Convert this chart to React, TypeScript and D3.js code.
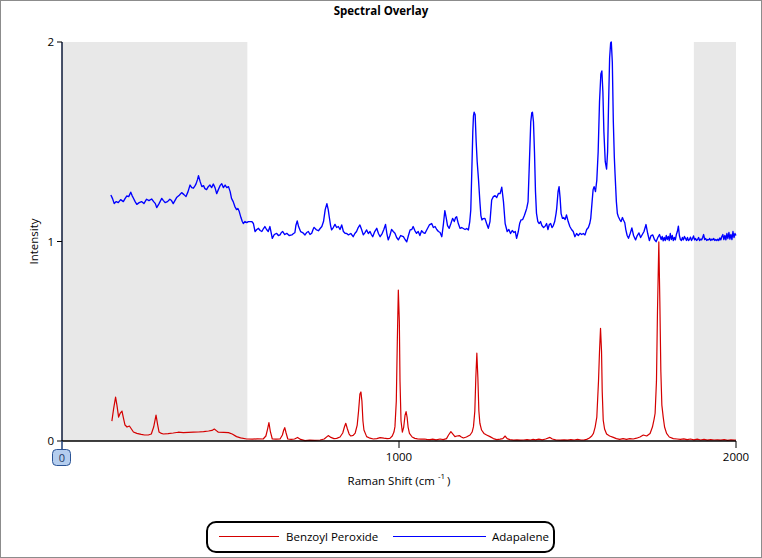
import React from "react";
import * as d3 from "d3";

const chartTitle = "Spectral Overlay";
const seriesNames = ["Benzoyl Peroxide", "Adapalene"];
const xTicks = [0, 1000, 2000];
const yTicks = [0, 1, 2];
const shadedRanges: [number, number][] = [[0, 550], [1875, 2000]];

const benzoylPeroxide: [number, number][] = [
  [148,0.10],[153,0.16],[159,0.22],[163,0.18],[168,0.12],[173,0.14],[178,0.15],[183,0.11],[187,0.08],[193,0.07],
  [200,0.075],[206,0.06],[212,0.045],[222,0.038],[235,0.033],[245,0.03],[256,0.03],[265,0.035],[272,0.07],[279,0.13],
  [284,0.08],[288,0.045],[295,0.038],[301,0.035],[315,0.037],[330,0.04],[345,0.044],[360,0.042],[375,0.043],[390,0.044],
  [405,0.045],[420,0.047],[435,0.05],[445,0.053],[452,0.06],[458,0.052],[464,0.044],[480,0.043],[494,0.042],[505,0.035],
  [518,0.022],[530,0.016],[548,0.01],[565,0.009],[580,0.011],[597,0.01],[605,0.025],[610,0.06],[614,0.092],[618,0.05],
  [624,0.01],[635,0.009],[647,0.01],[654,0.03],[658,0.055],[661,0.067],[665,0.04],[670,0.01],[680,0.008],[690,0.01],
  [699,0.018],[708,0.008],[721,0.002],[735,0.004],[750,0.003],[766,0.005],[778,0.01],[790,0.027],[798,0.018],[807,0.012],
  [815,0.013],[825,0.02],[833,0.04],[838,0.07],[842,0.089],[847,0.06],[852,0.035],[857,0.025],[864,0.028],[870,0.04],
  [876,0.08],[880,0.15],[884,0.235],[887,0.246],[890,0.2],[893,0.1],[896,0.055],[904,0.022],[914,0.014],[924,0.01],
  [934,0.012],[944,0.017],[955,0.014],[965,0.012],[973,0.013],[980,0.025],[985,0.045],[988,0.072],[992,0.2],[995,0.5],
  [998,0.757],[1001,0.6],[1003,0.3],[1006,0.1],[1010,0.044],[1014,0.07],[1018,0.13],[1021,0.147],[1024,0.12],[1027,0.07],
  [1031,0.038],[1039,0.02],[1047,0.013],[1055,0.011],[1065,0.009],[1075,0.01],[1082,0.008],[1092,0.007],[1100,0.009],[1110,0.006],
  [1122,0.01],[1131,0.007],[1141,0.012],[1147,0.03],[1154,0.047],[1160,0.035],[1166,0.022],[1172,0.025],[1179,0.027],[1185,0.02],
  [1191,0.015],[1200,0.02],[1211,0.03],[1217,0.045],[1221,0.072],[1225,0.15],[1228,0.32],[1231,0.44],[1234,0.32],[1237,0.15],
  [1240,0.089],[1245,0.055],[1252,0.038],[1260,0.03],[1270,0.022],[1280,0.012],[1290,0.007],[1300,0.009],[1308,0.012],[1315,0.025],
  [1321,0.012],[1329,0.007],[1340,0.004],[1350,0.006],[1360,0.004],[1370,0.005],[1380,0.007],[1390,0.005],[1398,0.008],[1405,0.006],
  [1415,0.009],[1425,0.006],[1435,0.01],[1448,0.018],[1455,0.01],[1465,0.006],[1478,0.004],[1490,0.006],[1500,0.004],[1510,0.007],
  [1520,0.005],[1530,0.008],[1540,0.005],[1550,0.006],[1557,0.008],[1565,0.015],[1572,0.025],[1577,0.038],[1582,0.07],[1587,0.12],
  [1592,0.3],[1595,0.45],[1598,0.565],[1601,0.45],[1603,0.25],[1606,0.105],[1610,0.06],[1616,0.035],[1625,0.025],[1636,0.018],
  [1645,0.012],[1655,0.008],[1665,0.012],[1675,0.008],[1685,0.012],[1695,0.01],[1705,0.014],[1715,0.02],[1725,0.03],[1735,0.025],
  [1745,0.038],[1752,0.07],[1757,0.11],[1760,0.139],[1764,0.3],[1767,0.65],[1771,0.998],[1774,0.7],[1777,0.35],[1780,0.18],
  [1784,0.12],[1788,0.07],[1794,0.038],[1802,0.02],[1814,0.012],[1825,0.01],[1835,0.008],[1845,0.011],[1855,0.007],[1865,0.01],
  [1875,0.006],[1885,0.009],[1895,0.005],[1905,0.008],[1915,0.004],[1925,0.007],[1935,0.005],[1945,0.006],[1955,0.004],[1965,0.007],
  [1975,0.003],[1985,0.006],[1995,0.004],[2000,0.005]
];

const adapalene: [number, number][] = [
  [145,1.233],[150,1.215],[155,1.19],[161,1.2],[167,1.195],[174,1.21],[182,1.2],[187,1.215],[192,1.228],[198,1.225],
  [204,1.247],[208,1.23],[212,1.217],[217,1.2],[222,1.186],[229,1.195],[236,1.2],[243,1.19],[251,1.212],[258,1.205],
  [266,1.213],[272,1.2],[277,1.19],[281,1.17],[288,1.19],[296,1.216],[301,1.205],[306,1.195],[313,1.2],[320,1.212],
  [325,1.205],[330,1.19],[335,1.205],[340,1.22],[348,1.232],[355,1.245],[362,1.235],[368,1.225],[374,1.25],[380,1.283],
  [385,1.27],[390,1.267],[395,1.28],[398,1.29],[402,1.31],[405,1.33],[410,1.3],[415,1.275],[420,1.28],[424,1.265],
  [429,1.26],[434,1.275],[439,1.283],[444,1.27],[449,1.288],[454,1.27],[459,1.24],[464,1.26],[469,1.28],[474,1.29],
  [479,1.27],[484,1.283],[489,1.27],[494,1.275],[499,1.25],[503,1.216],[508,1.2],[513,1.175],[518,1.16],[522,1.165],
  [526,1.15],[531,1.12],[535,1.1],[538,1.09],[543,1.1],[548,1.095],[553,1.1],[558,1.1],[563,1.1],[568,1.09],
  [573,1.05],[578,1.06],[583,1.066],[588,1.055],[593,1.05],[598,1.065],[602,1.075],[607,1.06],[612,1.05],[617,1.075],
  [620,1.05],[624,1.016],[630,1.035],[637,1.041],[642,1.03],[647,1.033],[651,1.045],[655,1.05],[661,1.035],[667,1.041],
  [674,1.03],[682,1.033],[687,1.04],[691,1.044],[694,1.08],[698,1.103],[702,1.075],[708,1.05],[714,1.045],[721,1.033],
  [726,1.045],[731,1.05],[736,1.035],[741,1.041],[745,1.06],[748,1.071],[754,1.06],[761,1.054],[766,1.065],[771,1.075],
  [776,1.1],[781,1.16],[786,1.19],[790,1.16],[793,1.124],[797,1.08],[800,1.058],[805,1.07],[810,1.086],[815,1.07],
  [820,1.075],[825,1.06],[830,1.083],[835,1.05],[840,1.041],[845,1.04],[850,1.033],[857,1.04],[864,1.024],[869,1.04],
  [874,1.05],[879,1.07],[884,1.083],[889,1.06],[894,1.033],[899,1.045],[904,1.058],[909,1.04],[914,1.05],[918,1.035],
  [922,1.024],[928,1.05],[934,1.066],[939,1.04],[944,1.024],[950,1.04],[955,1.06],[960,1.086],[964,1.04],[968,1.008],
  [973,1.03],[978,1.061],[983,1.05],[988,1.041],[993,1.02],[998,1.008],[1005,1.03],[1013,1.024],[1018,1.01],[1023,0.998],
  [1028,1.03],[1033,1.058],[1038,1.06],[1042,1.075],[1047,1.055],[1052,1.041],[1057,1.05],[1062,1.03],[1067,1.054],[1072,1.045],
  [1077,1.041],[1083,1.06],[1090,1.083],[1097,1.09],[1102,1.07],[1107,1.075],[1112,1.06],[1117,1.05],[1122,1.045],[1127,1.024],
  [1132,1.09],[1136,1.155],[1140,1.12],[1144,1.08],[1149,1.066],[1154,1.09],[1159,1.116],[1164,1.1],[1168,1.12],[1171,1.124],
  [1176,1.09],[1181,1.066],[1186,1.07],[1191,1.065],[1196,1.06],[1201,1.065],[1206,1.058],[1210,1.1],[1213,1.158],[1216,1.35],
  [1219,1.55],[1221,1.63],[1223,1.648],[1226,1.635],[1229,1.5],[1232,1.4],[1236,1.308],[1240,1.2],[1243,1.13],[1246,1.108],
  [1250,1.115],[1255,1.116],[1260,1.09],[1265,1.066],[1270,1.1],[1275,1.208],[1280,1.225],[1285,1.23],[1290,1.22],[1295,1.241],
  [1300,1.24],[1305,1.272],[1310,1.2],[1315,1.09],[1318,1.07],[1321,1.05],[1326,1.06],[1331,1.04],[1336,1.055],[1341,1.045],
  [1345,1.05],[1349,1.016],[1354,1.05],[1358,1.09],[1362,1.108],[1367,1.11],[1372,1.13],[1376,1.15],[1379,1.166],[1383,1.2],
  [1387,1.4],[1391,1.6],[1394,1.645],[1396,1.648],[1399,1.6],[1402,1.45],[1405,1.25],[1408,1.141],[1412,1.1],[1416,1.09],
  [1420,1.1],[1424,1.08],[1429,1.07],[1433,1.075],[1438,1.09],[1442,1.06],[1446,1.085],[1450,1.09],[1454,1.07],[1458,1.08],
  [1462,1.1],[1466,1.14],[1468,1.166],[1472,1.25],[1475,1.275],[1478,1.22],[1481,1.14],[1485,1.116],[1489,1.12],[1493,1.11],
  [1497,1.133],[1502,1.1],[1507,1.075],[1512,1.06],[1517,1.05],[1522,1.024],[1527,1.04],[1532,1.03],[1537,1.041],[1542,1.035],
  [1547,1.04],[1552,1.033],[1557,1.06],[1562,1.07],[1566,1.09],[1569,1.116],[1573,1.2],[1576,1.26],[1579,1.275],[1583,1.25],
  [1587,1.308],[1591,1.45],[1595,1.7],[1599,1.84],[1602,1.855],[1605,1.75],[1608,1.55],[1612,1.4],[1616,1.363],[1619,1.45],
  [1622,1.7],[1625,1.92],[1628,1.995],[1630,2.0],[1633,1.9],[1636,1.6],[1639,1.42],[1641,1.342],[1645,1.2],[1648,1.14],
  [1651,1.124],[1655,1.11],[1659,1.1],[1663,1.12],[1666,1.108],[1670,1.094],[1673,1.06],[1677,1.03],[1681,1.016],[1686,1.04],
  [1691,1.068],[1696,1.03],[1702,1.008],[1707,1.03],[1712,1.043],[1717,1.02],[1722,1.035],[1727,1.05],[1733,1.085],[1738,1.04],
  [1743,1.005],[1748,1.03],[1753,1.033],[1758,1.01],[1763,0.999],[1768,1.02],[1773,1.035],[1778,1.01],[1781,1.025],[1784,1.003],
  [1787,1.02],[1790,1.005],[1793,1.03],[1796,1.01],[1799,1.025],[1802,1.005],[1805,1.04],[1808,1.01],[1811,1.03],[1814,1.005],
  [1817,1.02],[1820,1.008],[1823,1.035],[1826,1.05],[1829,1.077],[1832,1.03],[1835,1.01],[1838,1.005],[1841,1.02],[1844,1.008],
  [1847,1.025],[1850,1.016],[1853,1.005],[1856,1.02],[1859,1.005],[1862,1.01],[1865,1.022],[1868,1.005],[1871,1.015],[1874,1.028],
  [1877,1.008],[1880,1.015],[1883,1.005],[1886,1.01],[1889,1.02],[1892,1.005],[1895,1.012],[1898,1.008],[1901,1.02],[1904,1.035],
  [1907,1.01],[1910,1.015],[1913,1.005],[1916,1.01],[1919,1.008],[1922,1.015],[1925,1.005],[1928,1.012],[1931,1.008],[1934,1.015],
  [1937,1.005],[1940,1.01],[1943,1.005],[1946,1.012],[1949,1.005],[1952,1.018],[1955,1.008],[1958,1.025],[1961,1.035],[1964,1.01],
  [1967,1.03],[1970,1.008],[1973,1.04],[1976,1.015],[1979,1.045],[1982,1.012],[1985,1.035],[1988,1.01],[1991,1.05],[1994,1.02],
  [1997,1.04],[2000,1.03]
];

const W = 762;
const H = 558;
const FONT = "'Open Sans', 'Noto Sans', sans-serif";

export default function App() {
  const left = 62, right = 736, top = 42, bottom = 441;
  const x = d3.scaleLinear().domain([0, 2000]).range([left, right]);
  const y = d3.scaleLinear().domain([0, 2]).range([bottom, top]);
  const line = d3.line<[number, number]>().x(d => x(d[0])).y(d => y(d[1]));
  const colors = ["#d40000", "#0000ff"];
  const widths = [1.2, 1.35];
  const data = [benzoylPeroxide, adapalene];

  return (
    <svg width={W} height={H} style={{ position: "absolute", left: 0, top: 0, fontFamily: FONT }}>
      <rect x={0.5} y={0.5} width={W - 1} height={H - 1} fill="#fff" stroke="#8c8c8c" />
      <text x={W / 2} y={15} textAnchor="middle" fontSize={11.5} fontWeight="bold" fill="#000">{chartTitle}</text>
      {shadedRanges.map((r, i) => (
        <rect key={i} x={x(r[0])} y={top} width={x(r[1]) - x(r[0])} height={bottom - top} fill="#e8e8e8" />
      ))}
      {data.map((d, i) => (
        <path key={i} d={line(d) || ""} fill="none" stroke={colors[i]} strokeWidth={widths[i]} strokeLinejoin="round" />
      ))}
      <line x1={left} x2={left} y1={top} y2={bottom} stroke="#0d1a3a" strokeWidth={1.5} />
      {yTicks.map(t => (
        <g key={t}>
          <line x1={left - 5} x2={left} y1={y(t)} y2={y(t)} stroke="#000" />
          <text x={left - 8} y={y(t) + 4} textAnchor="end" fontSize={11.5} fill="#000">{t}</text>
        </g>
      ))}
      <text transform={`translate(${left - 24},${(top + bottom) / 2}) rotate(-90)`} textAnchor="middle" fontSize={11.5} fill="#000">Intensity</text>
      <line x1={left} x2={right} y1={bottom} y2={bottom} stroke="#000" strokeWidth={1.5} />
      {xTicks.filter(t => t !== 0).map(t => (
        <g key={t}>
          <line x1={x(t)} x2={x(t)} y1={bottom} y2={bottom + 7} stroke="#000" />
          <text x={x(t)} y={bottom + 20} textAnchor="middle" fontSize={11.5} fill="#000">{t}</text>
        </g>
      ))}
      <line x1={x(0)} x2={x(0)} y1={bottom} y2={bottom + 8} stroke="#1d3f7a" strokeWidth={1.5} />
      <rect x={x(0) - 9.5} y={bottom + 8.5} width={18} height={16} rx={4} fill="#b4cdee" stroke="#2b5496" />
      <text x={x(0)} y={bottom + 20.5} textAnchor="middle" fontSize={11} fill="#1f3a66">{xTicks[0]}</text>
      <text x={(left + right) / 2} y={bottom + 44} textAnchor="middle" fontSize={11.5} fill="#000">
        Raman Shift (cm<tspan dx={3} dy={-6} fontSize={8}>-1</tspan><tspan dx={2} dy={6}>)</tspan>
      </text>
      <rect x={207} y={522} width={347} height={30} rx={9} fill="#fff" stroke="#000" strokeWidth={2} />
      <line x1={219} x2={279} y1={536.5} y2={536.5} stroke={colors[0]} strokeWidth={1.2} />
      <text x={286} y={541} fontSize={11.5} fill="#000">{seriesNames[0]}</text>
      <line x1={393} x2={486} y1={536.5} y2={536.5} stroke={colors[1]} strokeWidth={1.2} />
      <text x={492} y={541} fontSize={11.5} fill="#000">{seriesNames[1]}</text>
    </svg>
  );
}
